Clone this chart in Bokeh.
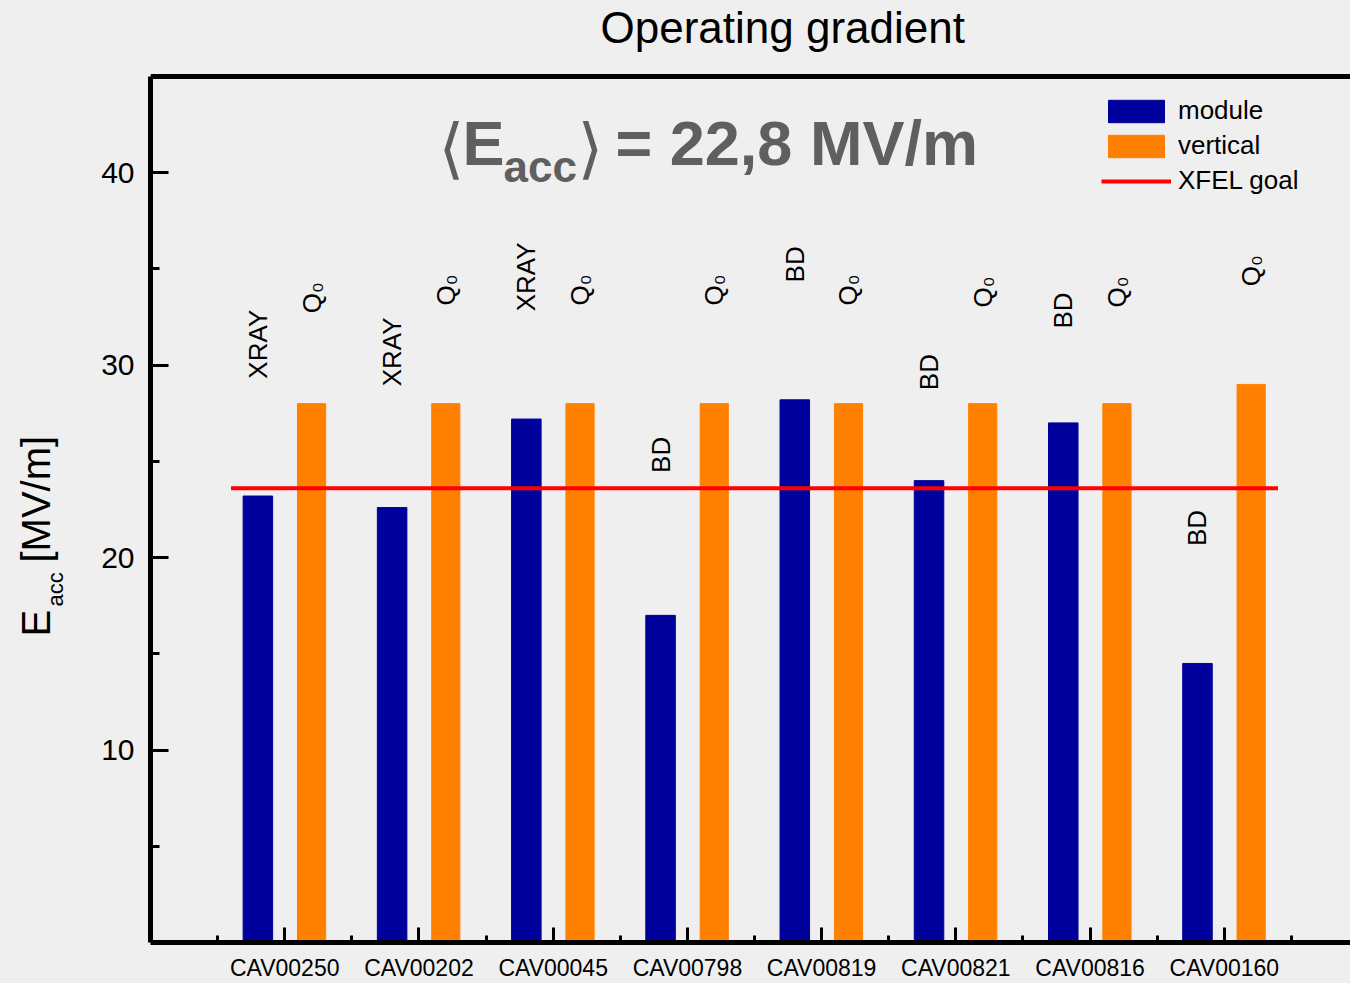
import math
from bokeh.plotting import figure
from bokeh.layouts import row
from bokeh.models import (Range1d, LinearAxis, FixedTicker, Label, Legend,
                          LegendItem, ColumnDataSource, Span)
from bokeh.transform import dodge
from bokeh.core.properties import value
from bokeh.embed import file_html
from bokeh.resources import INLINE

# ---------------- data ----------------
categories = ["CAV00250", "CAV00202", "CAV00045", "CAV00798",
              "CAV00819", "CAV00821", "CAV00816", "CAV00160"]
module = [23.2, 22.6, 27.2, 17.0, 28.2, 24.0, 27.0, 14.5]
vertical = [28.0, 28.0, 28.0, 28.0, 28.0, 28.0, 28.0, 29.0]
xfel_goal = 23.6
module_notes = ["XRAY", "XRAY", "XRAY", "BD", "BD", "BD", "BD", "BD"]
module_note_y = [29.3, 28.9, 32.8, 24.4, 34.3, 28.7, 31.9, 20.6]
vertical_notes = ["Q\u2080"] * 8
vertical_note_y = [32.7, 33.1, 33.1, 33.1, 33.1, 33.0, 33.0, 34.1]
y_ticks = [10, 20, 30, 40]
y_minor = [5, 15, 25, 35]
y_max = 45

# --------------- layout constants ---------------
W, H = 1350, 983
LW = 80                      # width of the strip holding the y-axis title
FL, FB = 150, 942            # frame left / bottom in page pixels
AX_TOP = 76                  # page y of the top border (y = y_max)
FT = 4                       # frame top (frame extends above the box for the title)
FONT = "Liberation Sans"
BG = "#efefef"
xpos = [i + 1 for i in range(len(categories))]
y_top = y_max * (FB - FT) / (FB - AX_TOP)

src = ColumnDataSource(dict(x=xpos, module=module, vertical=vertical,
                            mnote=module_notes, mny=module_note_y,
                            vnote=vertical_notes, vny=vertical_note_y))

p = figure(width=W - LW, height=H, output_backend="svg", toolbar_location=None,
           x_range=Range1d(0, 8.94), y_range=Range1d(0, y_top),
           min_border_left=FL - LW, min_border_right=0, min_border_top=FT,
           min_border_bottom=H - FB, x_axis_location=None, y_axis_location=None)
p.title.visible = False
p.background_fill_color = BG
p.border_fill_color = BG
p.outline_line_color = None
p.grid.visible = False

r_mod = p.vbar(x=dodge("x", -0.2), top="module", width=0.22, bottom=0,
               source=src, fill_color="#00009c", line_color="#00009c")
r_ver = p.vbar(x=dodge("x", 0.2), top="vertical", width=0.21, bottom=0,
               source=src, fill_color="#ff8000", line_color="#ff8000")
r_goal = p.line(x=[xpos[0] - 0.4, xpos[-1] + 0.4], y=[xfel_goal, xfel_goal],
                line_color="#ff0000", line_width=4)

p.text(x=dodge("x", -0.2), y="mny", text="mnote", source=src,
       angle=math.pi / 2, text_align="left", text_baseline="middle",
       text_font=value(FONT), text_font_size="26px", text_color="black")
p.text(x=dodge("x", 0.2), y="vny", text="vnote", source=src,
       angle=math.pi / 2, text_align="left", text_baseline="middle",
       text_font=value(FONT), text_font_size="26px", text_color="black")

# axes
yax = LinearAxis(ticker=FixedTicker(ticks=y_ticks, minor_ticks=y_minor),
                 bounds=(0, y_max))
yax.axis_line_width = 5
yax.major_tick_in = 18
yax.major_tick_out = 0
yax.minor_tick_in = 9
yax.minor_tick_out = 0
yax.major_tick_line_width = 3
yax.minor_tick_line_width = 3
yax.major_label_text_font = FONT
yax.major_label_text_font_size = "30px"
yax.major_label_text_color = "black"
yax.major_label_standoff = 16
p.add_layout(yax, "left")

xax = LinearAxis(ticker=FixedTicker(ticks=xpos,
                                    minor_ticks=[v - 0.5 for v in xpos] + [xpos[-1] + 0.5]))
xax.major_label_overrides = {v: c for v, c in zip(xpos, categories)}
xax.axis_line_width = 5
xax.major_tick_in = 15
xax.major_tick_out = 0
xax.minor_tick_in = 7
xax.minor_tick_out = 0
xax.major_tick_line_width = 3
xax.minor_tick_line_width = 3
xax.major_label_text_font = FONT
xax.major_label_text_font_size = "23px"
xax.major_label_text_color = "black"
xax.major_label_standoff = 12
p.add_layout(xax, "below")

# top border of the box
p.add_layout(Span(location=y_max, dimension="width", line_color="black",
                  line_width=5))

# legend (location = bottom-left corner, relative to the frame)
leg = Legend(items=[LegendItem(label="module", renderers=[r_mod]),
                    LegendItem(label="vertical", renderers=[r_ver]),
                    LegendItem(label="XFEL goal", renderers=[r_goal])],
             location=(1101 - FL, FB - 196))
leg.glyph_width = 70
leg.glyph_height = 28
leg.label_height = 28
leg.spacing = 4
leg.padding = 0
leg.margin = 0
leg.label_standoff = 7
leg.label_text_font = FONT
leg.label_text_font_size = "26px"
leg.label_text_color = "black"
leg.background_fill_alpha = 0
leg.border_line_color = None
p.add_layout(leg, "center")


def lab(fig, ox, text, px, py, size, bold=False, color="black", font=FONT,
        angle=0.0, baseline="alphabetic"):
    # px, py: page pixels; screen units are relative to the figure's frame
    fig.add_layout(Label(x=px - ox, y=FB - py,
                         x_units="screen", y_units="screen",
                         text=text, text_font=font, text_font_size=size,
                         text_font_style="bold" if bold else "normal",
                         text_color=color, angle=angle,
                         text_baseline=baseline, text_align="left"))


# title
lab(p, FL, "Operating gradient", 600, 27, "44px")

# mean annotation
G = "#5f5f5f"
lab(p, FL, "\u27e8", 438, 148, "66px", color=G, font="DejaVu Sans", baseline="middle")
lab(p, FL, "E", 462, 142, "63px", bold=True, color=G)
lab(p, FL, "acc", 503, 166, "44px", bold=True, color=G)
lab(p, FL, "\u27e9", 577, 148, "66px", color=G, font="DejaVu Sans", baseline="middle")
lab(p, FL, "= 22,8 MV/m", 615, 142, "63px", bold=True, color=G)

# y axis title strip (its frame is aligned with the main frame)
q = figure(width=LW, height=H, output_backend="svg", toolbar_location=None,
           x_range=Range1d(0, LW), y_range=Range1d(0, H),
           min_border_left=0, min_border_right=0, min_border_top=FT,
           min_border_bottom=0, x_axis_location=None, y_axis_location=None)
q.title.visible = False
q.background_fill_color = BG
q.border_fill_color = BG
q.outline_line_color = None
q.grid.visible = False
lab(q, 0, "E", 35, 636, "40px", angle=math.pi / 2)
lab(q, 0, "acc", 55, 606, "22px", angle=math.pi / 2)
lab(q, 0, "[MV/m]", 35, 562, "40px", angle=math.pi / 2)

layout = row(q, p, spacing=0)
layout.styles = {"background-color": BG}
open("out.html", "w").write(file_html(layout, INLINE))
